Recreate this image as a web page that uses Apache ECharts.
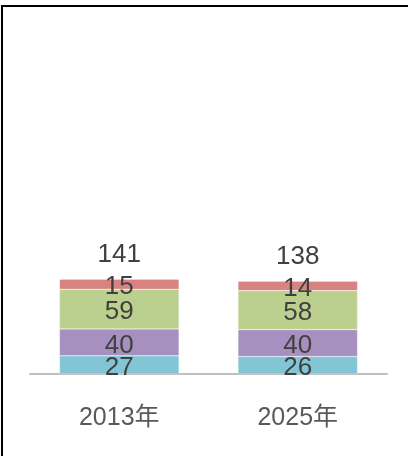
<!DOCTYPE html>
<html><head><meta charset="utf-8">
<script src="https://cdn.jsdelivr.net/npm/echarts@6/dist/echarts.min.js"></script>
<style>
html,body{margin:0;padding:0;background:#fff;}
#frame{position:absolute;left:1px;top:5px;width:407px;height:451px;border-top:2px solid #000;border-left:2px solid #000;box-sizing:border-box;}
#chart{position:absolute;left:0;top:0;width:408px;height:456px;}
</style></head>
<body>
<div id="frame"></div>
<div id="chart"></div>
<script>
const categories = ['2013年', '2025年'];
const seriesNames = ['A', 'B', 'C', 'D'];
const seriesA = [27, 26];
const seriesB = [40, 40];
const seriesC = [59, 58];
const seriesD = [15, 14];
const totals = [141, 138];
const colors = ['#82C6D6', '#A690C0', '#BBD08E', '#D98282'];

const font = "Arial, 'Liberation Sans', 'Noto Sans CJK SC', sans-serif";
const values = [seriesA, seriesB, seriesC, seriesD];
const series = values.map((v, i) => ({
  name: seriesNames[i], type: 'bar', stack: 's', data: v, barWidth: '67%',
  itemStyle: { color: colors[i], borderColor: 'rgba(255,255,255,0.5)', borderWidth: 0.5 },
  label: { show: true, position: 'inside', offset: [0, 3], color: '#404040', fontSize: 26, fontFamily: font },
  emphasis: { disabled: true }, silent: true
}));
series.push({
  name: 'total', type: 'bar', stack: 's', data: totals.map(() => 0), barWidth: '67%',
  itemStyle: { color: 'transparent' },
  label: { show: true, position: 'top', distance: 11, color: '#404040', fontSize: 26, fontFamily: font,
    formatter: p => totals[p.dataIndex] },
  silent: true
});

const chart = echarts.init(document.getElementById('chart'), null, { renderer: 'canvas' });
chart.setOption({
  animation: false,
  backgroundColor: 'transparent',
  grid: { left: 30, right: 21, top: 105, bottom: 82 },
  xAxis: {
    type: 'category', data: categories,
    axisLine: { lineStyle: { color: '#BFBFBF', width: 2 } },
    axisTick: { show: false },
    axisLabel: { color: '#595959', fontSize: 25, margin: 32, fontFamily: font }
  },
  yAxis: { type: 'value', min: 0, max: 400, show: false, splitLine: { show: false } },
  series: series
});
</script>
</body></html>
